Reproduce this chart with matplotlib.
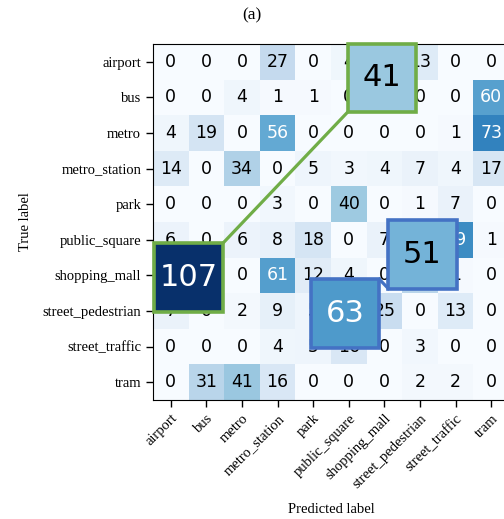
import numpy as np
import matplotlib
matplotlib.use("Agg")
import matplotlib.pyplot as plt
from matplotlib.patches import Rectangle

# --- data -----------------------------------------------------------
classes = ["airport", "bus", "metro", "metro_station", "park",
           "public_square", "shopping_mall", "street_pedestrian",
           "street_traffic", "tram"]

row_airport = [0, 0, 0, 27, 0, 4, 41, 13, 0, 0]
row_bus = [0, 0, 4, 1, 1, 0, 0, 0, 0, 60]
row_metro = [4, 19, 0, 56, 0, 0, 0, 0, 1, 73]
row_metro_station = [14, 0, 34, 0, 5, 3, 4, 7, 4, 17]
row_park = [0, 0, 0, 3, 0, 40, 0, 1, 7, 0]
row_public_square = [6, 0, 6, 8, 18, 0, 7, 51, 69, 1]
row_shopping_mall = [107, 0, 0, 61, 12, 4, 0, 31, 1, 0]
row_street_pedestrian = [7, 0, 2, 9, 5, 63, 25, 0, 13, 0]
row_street_traffic = [0, 0, 0, 4, 5, 16, 0, 3, 0, 0]
row_tram = [0, 31, 41, 16, 0, 0, 0, 2, 2, 0]

cm = np.array([row_airport, row_bus, row_metro, row_metro_station, row_park,
               row_public_square, row_shopping_mall, row_street_pedestrian,
               row_street_traffic, row_tram])

# highlighted (magnified) cells: (row, col)
zoom_cells = [(0, 6), (6, 0), (5, 7), (7, 5)]

# --- style / layout --------------------------------------------------
GREEN = "#70ad47"
BLUE = "#4472c4"
zoom_colors = [GREEN, GREEN, BLUE, BLUE]
zoom_centers = [(5.93, 0.45), (0.50, 6.06), (7.07, 5.41), (4.90, 7.07)]
ZS = 1.92  # size of magnified box in cell units

fig = plt.figure(figsize=(5.04, 5.19), dpi=100)
ax = fig.add_axes([153 / 504, 119 / 519, 356 / 504, 356 / 519])

cmap = plt.cm.Blues
norm = matplotlib.colors.Normalize(vmin=0, vmax=cm.max())
ax.imshow(cm, cmap=cmap, norm=norm, interpolation="nearest", aspect="auto")

thresh = cm.max() / 2.0
for i in range(cm.shape[0]):
    for j in range(cm.shape[1]):
        ax.text(j, i, str(cm[i, j]), ha="center", va="center",
                fontsize=12.5, family="DejaVu Sans",
                color="white" if cm[i, j] > thresh else "black")

serif = "Liberation Serif"
ax.set_xticks(range(len(classes)))
ax.set_yticks(range(len(classes)))
ax.set_xticklabels(classes, rotation=45, ha="right", rotation_mode="anchor",
                   family=serif, fontsize=10.5)
ax.set_yticklabels(classes, family=serif, fontsize=10.5)
ax.tick_params(length=5, width=1)
ax.set_xlim(-0.5, 9.5)
ax.set_ylim(9.5, -0.5)

ax.set_ylabel("True label", family=serif, fontsize=10.5)
ax.set_xlabel("Predicted label", family=serif, fontsize=10.5)
ax.yaxis.set_label_coords(-0.34, 0.5)
ax.xaxis.set_label_coords(0.5, -0.29)

# connector lines (corner to corner)
def corners(c):
    cx, cy = c
    h = ZS / 2
    return {"bl": (cx - h, cy + h), "tr": (cx + h, cy - h)}

g1 = corners(zoom_centers[0])["bl"]
g2 = corners(zoom_centers[1])["tr"]
ax.plot([g1[0], g2[0]], [g1[1], g2[1]], color=GREEN, lw=2.3,
        clip_on=False, zorder=3)
b1 = corners(zoom_centers[3])["tr"]
b2 = corners(zoom_centers[2])["bl"]
ax.plot([b1[0], b2[0]], [b1[1], b2[1]], color=BLUE, lw=2.3,
        clip_on=False, zorder=3)

# magnified boxes
for (r, c), col, (cx, cy) in zip(zoom_cells, zoom_colors, zoom_centers):
    v = cm[r, c]
    ax.add_patch(Rectangle((cx - ZS / 2, cy - ZS / 2), ZS, ZS,
                           facecolor=cmap(norm(v)), edgecolor=col, lw=2.6,
                           clip_on=False, zorder=4))
    ax.text(cx, cy, str(v), ha="center", va="center", fontsize=22,
            family="DejaVu Sans", zorder=5,
            color="white" if v > thresh else "black")

fig.text(0.5, 1 - 15 / 519, "(a)", ha="center", va="center",
         family=serif, fontsize=12.5)

fig.savefig("out.png", dpi=100)
